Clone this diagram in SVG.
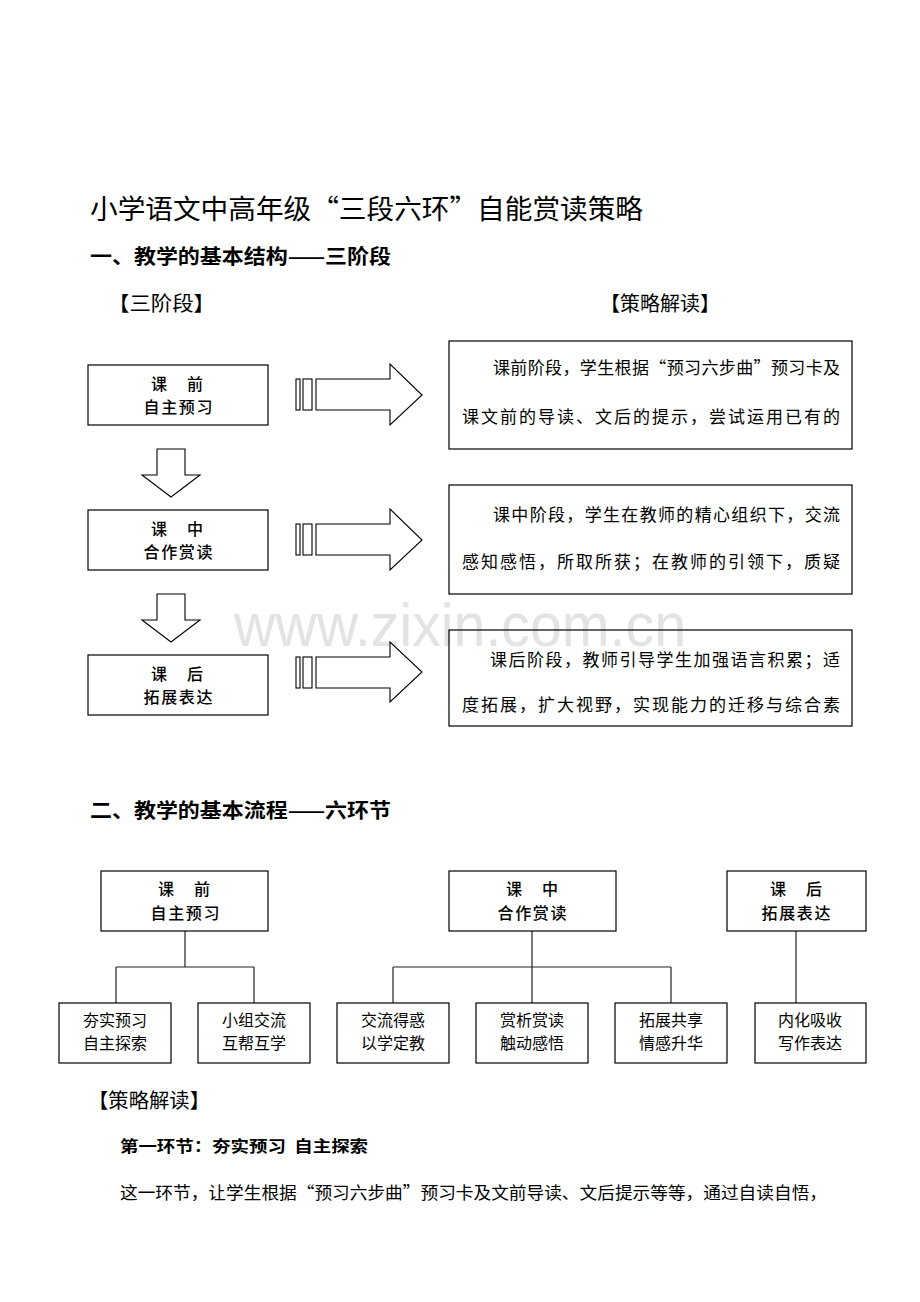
<svg xmlns="http://www.w3.org/2000/svg" width="920" height="1302" viewBox="0 0 920 1302">
<style>
text{font-family:"Noto Sans CJK SC","Noto Sans",sans-serif;fill:#000}
.box{fill:none;stroke:#000;stroke-width:1.2}
.arr{fill:#fff;stroke:#000;stroke-width:1.1}
.lbl{font-size:16px;font-weight:500;text-anchor:middle}
.ch{font-size:16px;text-anchor:middle}
.exp{font-size:17px}
.h{font-size:20px;font-weight:bold}
.br{font-size:20px}
.wm{font-family:"Liberation Sans",Arial,sans-serif;font-size:62px;fill:#e3e3e3}
.con{fill:none;stroke:#222;stroke-width:1.2}
</style>
<rect width="920" height="1302" fill="#fff"/>
<text class="wm" x="234" y="646" textLength="452" lengthAdjust="spacingAndGlyphs">www.zixin.com.cn</text>

<text x="90" y="219" font-size="27" textLength="553" lengthAdjust="spacingAndGlyphs">小学语文中高年级“三段六环”自能赏读策略</text>
<text class="h" x="90" y="264" textLength="301" lengthAdjust="spacingAndGlyphs">一、教学的基本结构——三阶段</text>
<text class="br" x="108" y="311" textLength="107" lengthAdjust="spacingAndGlyphs">【三阶段】</text>
<text class="br" x="600" y="311" textLength="120" lengthAdjust="spacingAndGlyphs">【策略解读】</text>

<g id="stage1">
<rect class="box" x="88" y="365" width="180" height="60"/>
<text class="lbl" x="177" y="390" textLength="52" lengthAdjust="spacing">课　前</text>
<text class="lbl" x="178" y="413" textLength="69" lengthAdjust="spacing">自主预习</text>
</g>
<g id="stage2">
<rect class="box" x="88" y="510" width="180" height="60"/>
<text class="lbl" x="177" y="535" textLength="52" lengthAdjust="spacing">课　中</text>
<text class="lbl" x="178" y="558" textLength="69" lengthAdjust="spacing">合作赏读</text>
</g>
<g id="stage3">
<rect class="box" x="88" y="655" width="180" height="60"/>
<text class="lbl" x="177" y="680" textLength="52" lengthAdjust="spacing">课　后</text>
<text class="lbl" x="178" y="703" textLength="69" lengthAdjust="spacing">拓展表达</text>
</g>

<g id="expl1">
<rect class="box" x="449" y="341" width="403" height="108"/>
<text class="exp" x="493" y="374" textLength="347" lengthAdjust="spacing">课前阶段，学生根据“预习六步曲”预习卡及</text>
<text class="exp" x="462" y="423" textLength="378" lengthAdjust="spacing">课文前的导读、文后的提示，尝试运用已有的</text>
</g>
<g id="expl2">
<rect class="box" x="449" y="485" width="403" height="109"/>
<text class="exp" x="493" y="521" textLength="347" lengthAdjust="spacing">课中阶段，学生在教师的精心组织下，交流</text>
<text class="exp" x="462" y="568" textLength="378" lengthAdjust="spacing">感知感悟，所取所获；在教师的引领下，质疑</text>
</g>
<g id="expl3">
<rect class="box" x="449" y="630" width="403" height="96"/>
<text class="exp" x="490" y="666" textLength="350" lengthAdjust="spacing">课后阶段，教师引导学生加强语言积累；适</text>
<text class="exp" x="462" y="711" textLength="378" lengthAdjust="spacing">度拓展，扩大视野，实现能力的迁移与综合素</text>
</g>

<g id="arrows1">
<polygon class="arr" points="157,449 185,449 185,475 200,475 171,497 142,475 157,475"/>
<polygon class="arr" points="157,594 185,594 185,620 200,620 171,642 142,620 157,620"/>
<rect class="arr" x="296" y="379" width="4" height="31"/>
<rect class="arr" x="303" y="379" width="9" height="31"/>
<polygon class="arr" points="316,379 390,379 390,364 422,395 390,425 390,410 316,410"/>
<rect class="arr" x="296" y="524" width="4" height="31"/>
<rect class="arr" x="303" y="524" width="9" height="31"/>
<polygon class="arr" points="316,524 390,524 390,509 422,540 390,570 390,555 316,555"/>
<rect class="arr" x="296" y="657" width="4" height="31"/>
<rect class="arr" x="303" y="657" width="9" height="31"/>
<polygon class="arr" points="316,657 390,657 390,642 422,672 390,702 390,688 316,688"/>
</g>

<text class="h" x="90" y="818" textLength="301" lengthAdjust="spacingAndGlyphs">二、教学的基本流程——六环节</text>

<g id="connectors">
<path class="con" d="M185,931 V967 M116,967 H254 M116,967 V1003 M254,967 V1003"/>
<path class="con" d="M532,931 V967 M393,967 H671 M393,967 V1003 M532,967 V1003 M671,967 V1003"/>
<path class="con" d="M796,931 V1003"/>
</g>

<g id="top1">
<rect class="box" x="101" y="871" width="167" height="60"/>
<text class="lbl" x="184" y="895" textLength="52" lengthAdjust="spacing">课　前</text>
<text class="lbl" x="185" y="919" textLength="69" lengthAdjust="spacing">自主预习</text>
</g>
<g id="top2">
<rect class="box" x="449" y="871" width="167" height="60"/>
<text class="lbl" x="532" y="895" textLength="52" lengthAdjust="spacing">课　中</text>
<text class="lbl" x="532" y="919" textLength="69" lengthAdjust="spacing">合作赏读</text>
</g>
<g id="top3">
<rect class="box" x="727" y="871" width="139" height="60"/>
<text class="lbl" x="796" y="895" textLength="52" lengthAdjust="spacing">课　后</text>
<text class="lbl" x="796" y="919" textLength="69" lengthAdjust="spacing">拓展表达</text>
</g>

<g id="c1"><rect class="box" x="59" y="1003" width="112" height="60"/>
<text class="ch" x="115" y="1026">夯实预习</text><text class="ch" x="115" y="1049">自主探索</text></g>
<g id="c2"><rect class="box" x="198" y="1003" width="112" height="60"/>
<text class="ch" x="254" y="1026">小组交流</text><text class="ch" x="254" y="1049">互帮互学</text></g>
<g id="c3"><rect class="box" x="337" y="1003" width="112" height="60"/>
<text class="ch" x="393" y="1026">交流得惑</text><text class="ch" x="393" y="1049">以学定教</text></g>
<g id="c4"><rect class="box" x="476" y="1003" width="112" height="60"/>
<text class="ch" x="532" y="1026">赏析赏读</text><text class="ch" x="532" y="1049">触动感悟</text></g>
<g id="c5"><rect class="box" x="615" y="1003" width="112" height="60"/>
<text class="ch" x="671" y="1026">拓展共享</text><text class="ch" x="671" y="1049">情感升华</text></g>
<g id="c6"><rect class="box" x="755" y="1003" width="111" height="60"/>
<text class="ch" x="810" y="1026">内化吸收</text><text class="ch" x="810" y="1049">写作表达</text></g>

<text class="br" x="88" y="1108" textLength="122" lengthAdjust="spacingAndGlyphs">【策略解读】</text>
<text x="120" y="1152" font-size="16" font-weight="bold" xml:space="preserve" textLength="248" lengthAdjust="spacingAndGlyphs">第一环节：夯实预习  自主探索</text>
<text x="120" y="1199" font-size="17" textLength="707" lengthAdjust="spacingAndGlyphs">这一环节，让学生根据“预习六步曲”预习卡及文前导读、文后提示等等，通过自读自悟，</text>
</svg>
